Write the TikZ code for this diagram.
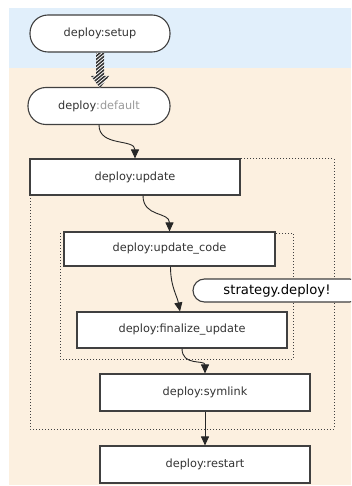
\documentclass[tikz,border=0pt]{standalone}
\usepackage{fontspec}
\setmainfont{DejaVu Sans}
\usetikzlibrary{arrows.meta}
\definecolor{bgblue}{HTML}{E1EFFB}
\definecolor{bgbeige}{HTML}{FCF0E0}
\definecolor{edge}{HTML}{404040}
\definecolor{txt}{HTML}{333333}
\definecolor{dimtxt}{HTML}{9A9A9A}
\begin{document}
\begin{tikzpicture}[x=1pt,y=-1pt,
  box/.style={draw=edge,line width=1.1pt,fill=white,inner sep=0pt,
    minimum width=210pt,minimum height=36pt,
    font=\fontsize{11.3}{13}\selectfont,text=txt},
  pill/.style={box,rounded corners=18pt,minimum width=140pt,minimum height=37pt},
  bubble/.style={draw=edge,line width=1.1pt,fill=white,inner sep=0pt,
    rounded corners=11.5pt,minimum width=168pt,minimum height=23pt,
    font=\fontsize{13.2}{15}\selectfont,text=black},
  flow/.style={draw=black!85,line width=0.9pt,-{Triangle[width=8pt,length=9pt]}},
  dotbox/.style={draw=edge,line width=1pt,dash pattern=on 1pt off 2pt}]
\useasboundingbox (0,0) rectangle (351,486);
\clip (0,0) rectangle (351,486);
% backgrounds
\fill[bgblue] (9,8) rectangle (351,68);
\fill[bgbeige] (9,68) rectangle (351,485);
% dotted groups
\draw[dotbox] (30,159) rectangle (334,429);
\draw[dotbox] (60,233) rectangle (293,359);
% nodes
\node[pill] (setup) at (100,33.5) {deploy:setup};
\node[pill,minimum width=142pt] (default) at (99,106) {deploy{\color{dimtxt}:default}};
\node[box] (update) at (135,177) {deploy:update};
\node[box,minimum width=211pt,minimum height=34pt] (code) at (169.5,249) {deploy:update\_code};
\node[bubble] (strategy) at (277,290.5) {strategy.deploy!};
\node[box] (final) at (182,330) {deploy:finalize\_update};
\node[box,minimum height=37pt] (symlink) at (205,392.5) {deploy:symlink};
\node[box,minimum height=37pt] (restart) at (205,464.5) {deploy:restart};
% hatched arrow setup -> default
\begin{scope}
  \clip (96,53) -- (104,53) -- (104,76) -- (109,76) -- (100,88) -- (91,76) -- (96,76) -- cycle;
  \fill[white] (88,50) rectangle (112,90);
  \foreach \i in {0,3.4,...,70} {
    \draw[black!80,line width=1.5pt] (85,45+\i) -- (115,20+\i);
  }
\end{scope}
% connectors
\draw[flow] (default.south) .. controls +(0,22) and +(0,-20) .. (update.north);
\draw[flow] ([xshift=8pt]update.south) .. controls +(0,22) and +(0,-20) .. (code.north);
\draw[flow] ([xshift=1pt]code.south) .. controls +(0,20) and +(-3,-16) .. ([xshift=-2pt]final.north);
\draw[flow] (final.south) .. controls +(0,18) and +(0,-14) .. (symlink.north);
\draw[flow] (symlink.south) -- (restart.north);
\end{tikzpicture}
\end{document}
